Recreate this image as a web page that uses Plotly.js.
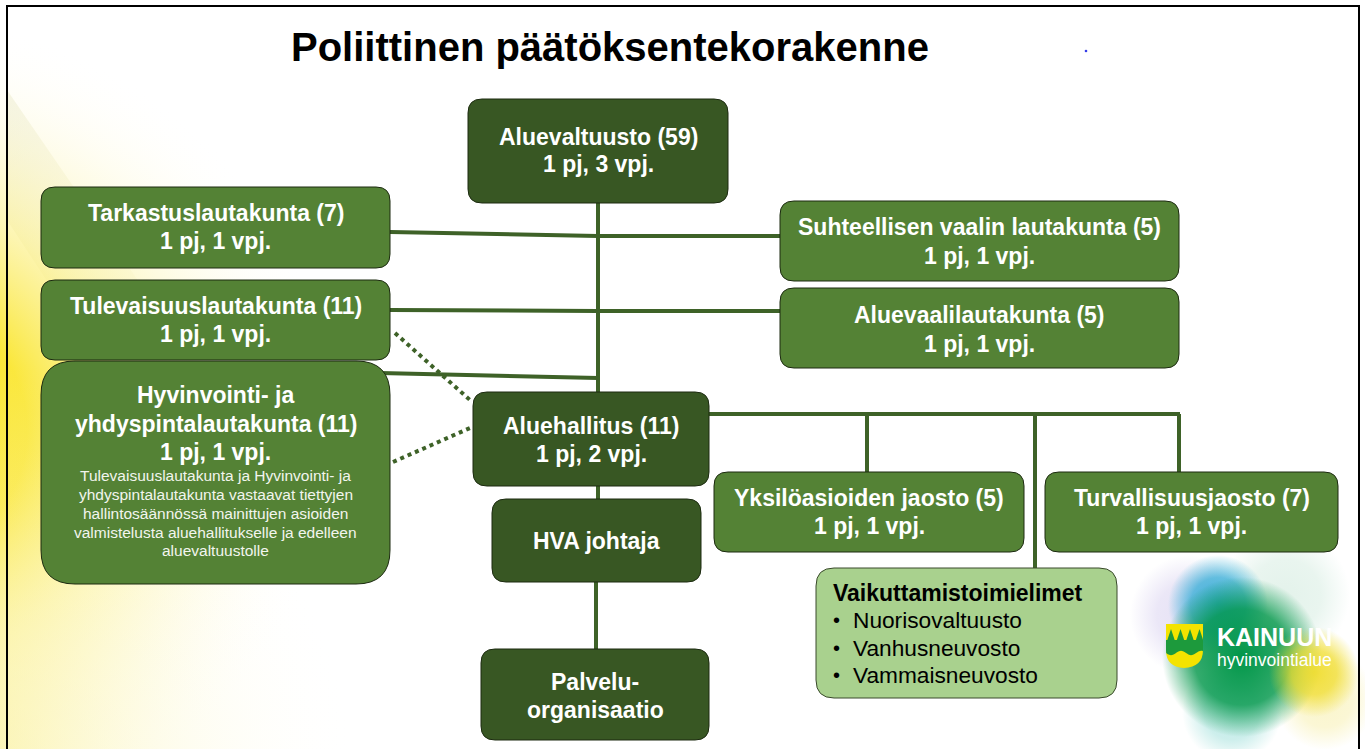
<!DOCTYPE html>
<html>
<head>
<meta charset="utf-8">
<script src="https://cdn.plot.ly/plotly-3.0.1.min.js"></script>
<style>
html,body{margin:0;padding:0;background:#fff;overflow:hidden;}
#chart{width:1365px;height:749px;}
</style>
</head>
<body>
<div id="chart"></div>
<script>
// ---------- DATA ----------
const chartTitle = "Poliittinen päätöksentekorakenne";
const bodies = ["Aluevaltuusto", "Tarkastuslautakunta", "Tulevaisuuslautakunta",
  "Hyvinvointi- ja yhdyspintalautakunta", "Suhteellisen vaalin lautakunta", "Aluevaalilautakunta",
  "Aluehallitus", "HVA johtaja", "Palvelu-organisaatio", "Yksilöasioiden jaosto", "Turvallisuusjaosto"];
const memberCounts = [59, 7, 11, 11, 5, 5, 11, null, null, 5, 7];
const chairs = ["1 pj, 3 vpj.", "1 pj, 1 vpj.", "1 pj, 1 vpj.", "1 pj, 1 vpj.", "1 pj, 1 vpj.",
  "1 pj, 1 vpj.", "1 pj, 2 vpj.", "", "", "1 pj, 1 vpj.", "1 pj, 1 vpj."];
const noteLines = ["Tulevaisuuslautakunta ja Hyvinvointi- ja", "yhdyspintalautakunta vastaavat tiettyjen",
  "hallintosäännössä mainittujen asioiden", "valmistelusta aluehallitukselle ja edelleen", "aluevaltuustolle"];
const influenceTitle = "Vaikuttamistoimielimet";
const influenceBodies = ["Nuorisovaltuusto", "Vanhusneuvosto", "Vammaisneuvosto"];
const logoName = "KAINUUN";
const logoSub = "hyvinvointialue";

// ---------- LAYOUT / STYLE (pixel space of the slide) ----------
const C = {dark:"#385723", mid:"#548235", light:"#a9d18e", line:"#3e6228", edge:"#1c2a10"};
const geom = [
  {box:[468,99,728,203], r:14, fill:C.dark, ys:[137,164]},
  {box:[41,187,390,268], r:14, fill:C.mid, ys:[213,241]},
  {box:[41,280,390,360], r:14, fill:C.mid, ys:[306,334]},
  {box:[41,361,390,584], r:34, fill:C.mid, ys:[395,424,452], brk:"ja "},
  {box:[780,201,1179,281], r:14, fill:C.mid, ys:[227,256]},
  {box:[780,288,1179,368], r:14, fill:C.mid, ys:[315,344]},
  {box:[473,392,709,486], r:14, fill:C.dark, ys:[426,454]},
  {box:[492,499,701,582], r:14, fill:C.dark, ys:[541]},
  {box:[481,649,709,740], r:14, fill:C.dark, ys:[682,710], brk:"-"},
  {box:[714,472,1024,552], r:14, fill:C.mid, ys:[498,526]},
  {box:[1045,472,1338,552], r:14, fill:C.mid, ys:[498,526]}
];
const noteYs = [475,494,513,532,550];
const inflBox = [816,568,1117,698];
const inflYs = [593,620,648,675];
const solid = [
  [[598,203],[598,392]], [[598,486],[598,499]], [[596,582],[596,649]],
  [[390,232],[598,236]], [[598,236],[780,236]],
  [[390,310],[598,311]], [[598,311],[780,311]],
  [[380,373],[598,378]],
  [[709,414],[1180,414]], [[867,414],[867,472]], [[1035,414],[1035,568]], [[1179,414],[1179,472]]
];
const dotted = [[[395,333],[470,400]], [[393,462],[470,428]]];

function rr(x0,y0,x1,y1,r){
  return `M${x0+r},${y0} L${x1-r},${y0} Q${x1},${y0} ${x1},${y0+r} L${x1},${y1-r} Q${x1},${y1} ${x1-r},${y1} `+
         `L${x0+r},${y1} Q${x0},${y1} ${x0},${y1-r} L${x0},${y0+r} Q${x0},${y0} ${x0+r},${y0} Z`;
}

// ---------- decorative background (canvas) ----------
function makeBg(){
  const cv = document.createElement('canvas');
  cv.width = 1365; cv.height = 749;
  const g = cv.getContext('2d');
  g.fillStyle = '#ffffff'; g.fillRect(0,0,1365,749);
  // faint diagonal light band top-left
  g.save();
  g.beginPath(); g.moveTo(7,90); g.lineTo(7,220); g.lineTo(230,560); g.lineTo(330,560); g.closePath();
  let lg = g.createLinearGradient(0,100,250,400);
  lg.addColorStop(0,'rgba(215,215,170,0.3)');
  lg.addColorStop(1,'rgba(250,245,200,0.05)');
  g.fillStyle = lg; g.fill();
  g.restore();
  // yellow glow on the left
  g.save();
  g.translate(-130,430); g.scale(1,0.9);
  let rg = g.createRadialGradient(0,0,10,0,0,470);
  rg.addColorStop(0,'rgba(250,228,30,1)');
  rg.addColorStop(0.32,'rgba(250,230,50,0.95)');
  rg.addColorStop(0.55,'rgba(251,238,120,0.55)');
  rg.addColorStop(0.8,'rgba(253,247,200,0.25)');
  rg.addColorStop(1,'rgba(255,255,255,0)');
  g.fillStyle = rg; g.fillRect(-500,-600,1100,1200);
  g.restore();
  rg = g.createRadialGradient(-60,780,10,-60,780,420);
  rg.addColorStop(0,'rgba(248,236,120,0.65)');
  rg.addColorStop(1,'rgba(255,255,255,0)');
  g.fillStyle = rg; g.fillRect(0,350,520,399);
  // logo blob
  function blob(x,y,r,col,a,mid){
    const b = g.createRadialGradient(x,y,0,x,y,r);
    b.addColorStop(0,`rgba(${col},${a})`);
    b.addColorStop(mid||0.55,`rgba(${col},${a*0.8})`);
    b.addColorStop(1,`rgba(${col},0)`);
    g.fillStyle = b; g.fillRect(x-r,y-r,2*r,2*r);
  }
  blob(1190,615,60,'205,195,235',0.5);
  blob(1285,595,65,'200,230,215',0.5);
  blob(1232,712,50,'150,220,215',0.6);
  blob(1325,700,50,'245,235,150',0.5);
  blob(1218,605,50,'30,165,210',0.85);
  blob(1242,657,80,'0,150,72',1,0.6);
  blob(1314,672,45,'240,220,40',0.9,0.5);
  // shield
  g.beginPath();
  g.moveTo(1166,624); g.lineTo(1203,624); g.lineTo(1203,650);
  g.quadraticCurveTo(1203,667,1184,668); g.quadraticCurveTo(1166,667,1166,650); g.closePath();
  g.fillStyle = '#f4e300'; g.fill();
  g.save(); g.clip();
  g.fillStyle = '#1d9a3c';
  g.beginPath(); g.moveTo(1166,640);
  g.lineTo(1203,640); g.lineTo(1203,652);
  for(let x=1203;x>=1166;x-=1){ g.lineTo(x, 653+2.2*Math.sin((x-1166)/3.2)); }
  g.closePath(); g.fill();
  for(let i=0;i<4;i++){
    const cx = 1171+i*9.5;
    g.beginPath(); g.moveTo(cx,629); g.lineTo(cx+4,641); g.lineTo(cx-4,641); g.closePath(); g.fill();
  }
  g.restore();
  // small blue dot
  g.fillStyle = 'rgba(30,40,230,0.9)';
  g.beginPath(); g.arc(1086,51,1.3,0,7); g.fill();
  return cv.toDataURL('image/png');
}

// ---------- build figure ----------
const FONT = "Liberation Sans, Arial, sans-serif";
const shapes = [];
const annotations = [];

solid.forEach(s => shapes.push({type:'line', x0:s[0][0], y0:s[0][1], x1:s[1][0], y1:s[1][1],
  line:{color:C.line, width:4}, layer:'above'}));
dotted.forEach(s => shapes.push({type:'line', x0:s[0][0], y0:s[0][1], x1:s[1][0], y1:s[1][1],
  line:{color:C.line, width:4, dash:'dot'}, layer:'above'}));

bodies.forEach((name,i) => {
  const gm = geom[i];
  const [x0,y0,x1,y1] = gm.box;
  shapes.push({type:'path', path:rr(x0,y0,x1,y1,gm.r), fillcolor:gm.fill,
    line:{color:C.edge, width:1}, layer:'above'});
  let label = memberCounts[i] != null ? `${name} (${memberCounts[i]})` : name;
  let lines = [];
  if (gm.brk){
    const k = label.indexOf(gm.brk) + gm.brk.length;
    lines.push(label.slice(0,k).trim(), label.slice(k).trim());
  } else lines.push(label);
  if (chairs[i]) lines.push(chairs[i]);
  const cx = (x0+x1)/2;
  lines.forEach((t,j) => annotations.push({x:cx, y:gm.ys[j], xref:'x', yref:'y', text:t, showarrow:false,
    xanchor:'center', yanchor:'middle', font:{family:FONT, size:23, color:'#ffffff', weight:'bold'}}));
  if (i === 3){
    noteLines.forEach((t,j) => annotations.push({x:cx, y:noteYs[j], text:t, showarrow:false,
      xanchor:'center', yanchor:'middle', font:{family:FONT, size:15.5, color:'#f2f5ee'}}));
  }
});

shapes.push({type:'path', path:rr(inflBox[0],inflBox[1],inflBox[2],inflBox[3],18), fillcolor:C.light,
  line:{color:'#3a4a2c', width:1}, layer:'above'});
annotations.push({x:831, y:inflYs[0], text:influenceTitle, showarrow:false, xanchor:'left', yanchor:'middle',
  font:{family:FONT, size:23, color:'#000', weight:'bold'}});
influenceBodies.forEach((t,j) => {
  annotations.push({x:831, y:inflYs[j+1], text:'•', showarrow:false, xanchor:'left', yanchor:'middle',
    font:{family:FONT, size:20, color:'#000'}});
  annotations.push({x:851, y:inflYs[j+1], text:t, showarrow:false, xanchor:'left', yanchor:'middle',
    font:{family:FONT, size:22.7, color:'#000'}});
});

annotations.push({x:610, y:47, text:chartTitle, showarrow:false, xanchor:'center', yanchor:'middle',
  font:{family:FONT, size:40, color:'#000', weight:'bold'}});
annotations.push({x:1215, y:637, text:logoName, showarrow:false, xanchor:'left', yanchor:'middle',
  font:{family:FONT, size:25, color:'#fff', weight:'bold'}, height:24, valign:'middle'});
annotations.push({x:1215, y:660, text:logoSub, showarrow:false, xanchor:'left', yanchor:'middle',
  font:{family:FONT, size:17.5, color:'#fff'}, height:18, valign:'middle'});

// frame
shapes.push({type:'path', path:'M7,749 L7,6 L1359,6 L1359,749', line:{color:'#000', width:2}, layer:'above'});

const layout = {
  width:1365, height:749,
  margin:{l:0,r:0,t:0,b:0},
  paper_bgcolor:'#ffffff', plot_bgcolor:'rgba(0,0,0,0)',
  xaxis:{range:[0,1365], visible:false, fixedrange:true},
  yaxis:{range:[749,0], visible:false, fixedrange:true},
  showlegend:false,
  shapes:shapes, annotations:annotations,
  images:[{source:makeBg(), xref:'paper', yref:'paper', x:0, y:1, sizex:1, sizey:1,
    xanchor:'left', yanchor:'top', sizing:'stretch', layer:'below'}]
};
Plotly.newPlot('chart', [{type:'scatter', x:[], y:[], hoverinfo:'skip'}], layout, {staticPlot:true, displayModeBar:false});
</script>
</body>
</html>
